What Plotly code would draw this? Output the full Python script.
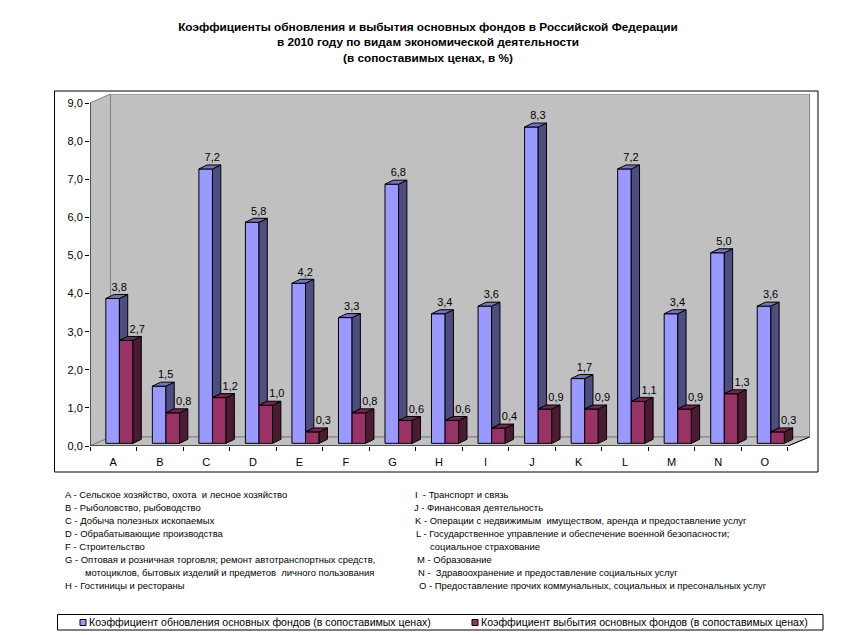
import plotly.graph_objects as go

categories = list("ABCDEFGHIJKLMNO")
renewal = [3.8, 1.5, 7.2, 5.8, 4.2, 3.3, 6.8, 3.4, 3.6, 8.3, 1.7, 7.2, 3.4, 5.0, 3.6]
retirement = [2.7, 0.8, 1.2, 1.0, 0.3, 0.8, 0.6, 0.6, 0.4, 0.9, 0.9, 1.1, 0.9, 1.3, 0.3]
series_names = ["Коэффициент обновления основных фондов (в сопоставимых ценах)",
                "Коэффициент выбытия основных фондов (в сопоставимых ценах)"]
title_lines = ["Коэффициенты обновления и выбытия основных фондов в Российской Федерации",
               "в 2010 году по видам экономической деятельности",
               "(в сопоставимых ценах, в %)"]
notes_left = ["A - Сельское хозяйство, охота \u00a0и лесное хозяйство",
              "B - Рыболовство, рыбоводство",
              "C - Добыча полезных ископаемых",
              "D - Обрабатывающие производства",
              "F - Строительство",
              "G - Оптовая и розничная торговля; ремонт автотранспортных средств,",
              "мотоциклов, бытовых изделий и предметов \u00a0личного пользования",
              "H - Гостиницы и рестораны"]
notes_right = ["I \u00a0- Транспорт и связь",
               "J - Финансовая деятельность",
               "K - Операции с недвижимым \u00a0имуществом, аренда и предоставление услуг",
               "L - Государственное управление и обеспечение военной безопасности;",
               "социальное страхование",
               "M - Образование",
               "N - \u00a0Здравоохранение и предоставление социальных услуг",
               "O - Предоставление прочих коммунальных, социальных и пресональных услуг"]
ymax_tick = 9

# ---- layout geometry (pixels of the 862x635 page)
W, H = 862, 635
PL, PR, PT, PB = 90, 810, 94, 446          # plotted area incl. 3-D walls
PX_CAT = 46.53                             # px per category
PX_VAL = 38.11                             # px per unit of value
DX, DY = 8.3 / PX_CAT, 4 / PX_VAL          # bar depth in data units
WX, WY = 20.5 / PX_CAT, 9 / PX_VAL         # wall depth in data units
BASE = 0.07
BW = 0.292
OFF_B, OFF_R = -0.16, 0.132
n = len(categories)
xr = (PR - PL) / PX_CAT
yr = (PB - PT) / PX_VAL
centers = [i + 0.5 for i in range(n)]

BLUE, BLUE_S, BLUE_T = "#9999FF", "#4D4D80", "#7373BF"
RED, RED_S, RED_T = "#993366", "#4D1A33", "#732650"
FONT = "Liberation Sans"


def xp(px):
    return (px - PL) / (PR - PL)


def yp(py):
    return (PB - py) / (PB - PT)


def faces(lefts, lows, highs):
    xs, ys = [], []
    for x0, lo, hi in zip(lefts, lows, highs):
        xs += [x0, x0 + DX, x0 + DX, x0, x0, None]
        ys += [lo, lo + DY, hi + DY, hi, lo, None]
    return xs, ys


def tops(lefts, highs):
    xs, ys = [], []
    for x0, hi in zip(lefts, highs):
        xs += [x0, x0 + BW, x0 + BW + DX, x0 + DX, x0, None]
        ys += [hi, hi, hi + DY, hi + DY, hi, None]
    return xs, ys


def poly(xs, ys, color, name):
    return go.Scatter(x=xs, y=ys, mode="lines", fill="toself", fillcolor=color,
                      line=dict(color="black", width=1), showlegend=False,
                      hoverinfo="skip", name=name)


b_top = [v + BASE for v in renewal]
r_top = [v + BASE for v in retirement]
b_left = [c + OFF_B for c in centers]
r_left = [c + OFF_R for c in centers]
b_side_left = [x + BW for x in b_left]
r_side_left = [x + BW for x in r_left]

fig = go.Figure()
fig.add_bar(x=centers, y=renewal, base=BASE, width=BW, offset=OFF_B, name=series_names[0],
            marker=dict(color=BLUE, line=dict(color="black", width=1)), showlegend=False)
fig.add_bar(x=centers, y=retirement, base=BASE, width=BW, offset=OFF_R, name=series_names[1],
            marker=dict(color=RED, line=dict(color="black", width=1)), showlegend=False)

# the blue side face is visible only above the top edge of the red bar in front of it
fig.add_trace(poly(*faces(b_side_left, r_top, b_top), BLUE_S, "side"))
fig.add_trace(poly(*tops(b_left, b_top), BLUE_T, "top"))
fig.add_trace(poly(*faces(r_side_left, [BASE] * n, r_top), RED_S, "side"))
fig.add_trace(poly(*tops(r_left, r_top), RED_T, "top"))


def lab(v):
    return f"{v:.1f}".replace(".", ",")


fig.add_trace(go.Scatter(x=[c + OFF_B + BW / 2 + 6.5 / PX_CAT for c in centers],
                         y=[v + 10.5 / PX_VAL for v in b_top], mode="text",
                         text=[lab(v) for v in renewal], textposition="middle center",
                         textfont=dict(family=FONT, size=11, color="black"),
                         showlegend=False, hoverinfo="skip", cliponaxis=False))
fig.add_trace(go.Scatter(x=[c + OFF_R + BW / 2 + 11 / PX_CAT for c in centers],
                         y=[v + 10.5 / PX_VAL for v in r_top], mode="text",
                         text=[lab(v) for v in retirement], textposition="middle center",
                         textfont=dict(family=FONT, size=11, color="black"),
                         showlegend=False, hoverinfo="skip", cliponaxis=False))

WALL = "#C0C0C0"
EDGE = "#808080"
shapes = [
    # outer frame
    dict(type="rect", xref="paper", yref="paper", x0=xp(54.5), x1=xp(818), y0=yp(472), y1=yp(91),
         line=dict(color="black", width=1), layer="below"),
    # side wall, back wall, floor
    dict(type="path", xref="x", yref="y", layer="below", fillcolor=WALL, line=dict(color=EDGE, width=1),
         path=f"M0,0 L{WX},{WY} L{WX},{yr} L0,{ymax_tick} Z"),
    dict(type="path", xref="x", yref="y", layer="below", fillcolor=WALL, line=dict(color=EDGE, width=1),
         path=f"M{WX},{WY} L{xr - 0.01},{WY} L{xr - 0.01},{yr} L{WX},{yr} Z"),
    dict(type="path", xref="x", yref="y", layer="below", fillcolor=WALL, line=dict(color=EDGE, width=1),
         path=f"M0,0 L{n},0 L{xr - 0.01},{WY} L{WX},{WY} Z"),
    # front edge of floor
    dict(type="line", xref="x", yref="y", layer="below", x0=n, y0=0, x1=xr - 0.01, y1=WY,
         line=dict(color="black", width=1)),
    # axis lines
    dict(type="line", xref="x", yref="y", layer="below", x0=0, y0=0, x1=0, y1=ymax_tick,
         line=dict(color="black", width=1)),
    dict(type="line", xref="x", yref="y", layer="below", x0=0, y0=0, x1=n, y1=0,
         line=dict(color="black", width=1)),
    # legend box and swatches
    dict(type="rect", xref="paper", yref="paper", x0=xp(57.5), x1=xp(823), y0=yp(630), y1=yp(614.5),
         line=dict(color="black", width=1), fillcolor="white"),
    dict(type="rect", xref="paper", yref="paper", x0=xp(80), x1=xp(86), y0=yp(625.5), y1=yp(619.5),
         line=dict(color="black", width=1), fillcolor=BLUE),
    dict(type="rect", xref="paper", yref="paper", x0=xp(472), x1=xp(478), y0=yp(625.5), y1=yp(619.5),
         line=dict(color="black", width=1), fillcolor=RED),
]

annotations = []


def note(text, px, py, size=9.45):
    annotations.append(dict(text=text, xref="paper", yref="paper", x=xp(px - 2.5), y=yp(py),
                            xanchor="left", yanchor="middle", showarrow=False,
                            font=dict(family=FONT, size=size, color="black"), align="left"))


left_x = [65, 65, 65, 65, 65, 65, 85, 65]
right_x = [415, 414, 415.5, 416, 430, 417, 418, 419]
rows = [494.3, 507.3, 520.3, 533.3, 546.3, 559.3, 572.3, 585.3]
for t, x, y in zip(notes_left, left_x, rows):
    note(t, x, y)
for t, x, y in zip(notes_right, right_x, rows):
    note(t, x, y)
note(series_names[0], 89, 621.8, 10.55)
note(series_names[1], 481, 621.8, 10.55)

fig.update_layout(
    width=W, height=H, autosize=False,
    margin=dict(l=PL, r=W - PR, t=PT, b=H - PB, pad=0),
    paper_bgcolor="white", plot_bgcolor="rgba(0,0,0,0)",
    barmode="overlay", showlegend=False, separators=", ",
    font=dict(family=FONT, size=11, color="black"),
    title=dict(text="<br>".join(title_lines), x=428 / W, xanchor="center", y=1 - 31 / H, yanchor="top",
               font=dict(family=FONT, size=11.8, color="black", weight="bold")),
    xaxis=dict(range=[0, xr], tickmode="array", tickvals=centers, ticktext=categories,
               ticks="", showgrid=False, zeroline=False, showline=False, ticklabelstandoff=8,
               tickfont=dict(family=FONT, size=11),
               minor=dict(tickmode="array", tickvals=list(range(n + 1)), ticks="outside", ticklen=4,
                          tickcolor="black", tickwidth=1, showgrid=False)),
    yaxis=dict(range=[0, yr], tickmode="array", tickvals=list(range(ymax_tick + 1)), tickformat=".1f",
               ticks="outside", ticklen=4, tickcolor="black", showgrid=False, zeroline=False,
               showline=False, tickfont=dict(family=FONT, size=11)),
    shapes=shapes, annotations=annotations,
)

fig.write_html("out.html", post_script="document.body.style.margin='0';", config=dict(displayModeBar=False))
